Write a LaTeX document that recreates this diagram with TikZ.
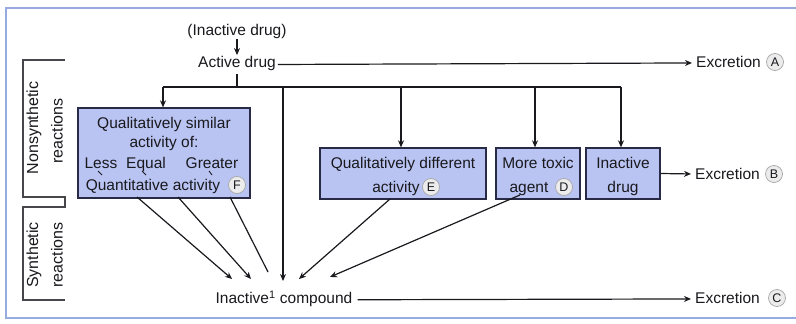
\documentclass[tikz,border=0pt]{standalone}
\usepackage{fontspec}
\setmainfont{Liberation Sans}
\usetikzlibrary{arrows.meta}
\definecolor{boxfill}{RGB}{186,196,242}
\definecolor{boxline}{RGB}{40,42,70}
\definecolor{framec}{RGB}{150,172,225}
\definecolor{inkc}{RGB}{25,25,30}
\tikzset{
  txt/.style={font=\fontsize{15.5}{18}\selectfont, inner sep=0pt, text=inkc, anchor=base},
  pbox/.style={draw=boxline, fill=boxfill, line width=1.3pt, inner sep=0pt},
  ln/.style={draw=inkc, line width=1.2pt},
  arr/.style={ln, -{Stealth[length=7pt,width=6pt]}},
  cl/.style={circle, draw=gray!70, fill=gray!15, line width=0.7pt, inner sep=0pt,
             minimum size=17pt, font=\fontsize{12.5}{13}\selectfont, text=inkc},
  brk/.style={draw=inkc!80, line width=1.2pt},
  vtxt/.style={font=\fontsize{16}{18}\selectfont, inner sep=0pt, text=inkc, rotate=90},
}
\begin{document}
\begin{tikzpicture}[x=1pt,y=-1pt]
\useasboundingbox (0,0) rectangle (796,324);
\fill[white] (0,0) rectangle (796,324);
% outer frame
\draw[framec, line width=2.5pt] (796,8) -- (6,8) -- (6,318) -- (796,318);

% top
\node[txt] (inact) at (237,35.5) {(Inactive drug)};
\node[txt] (active) at (237,67.5) {Active drug};
\draw[arr] (inact.south) -- ([yshift=1pt]active.north);

% excretions
\node[txt, anchor=base west] (exA) at (696,67.5) {Excretion};
\node[cl] (cA) at (775,62) {A};
\node[txt, anchor=base west] (exB) at (695,179.5) {Excretion};
\node[cl] (cB) at (774,174) {B};
\node[txt, anchor=base west] (exC) at (695,303.5) {Excretion};
\node[cl] (cC) at (777,298) {C};

% boxes
\node[pbox, minimum width=172pt, minimum height=90pt] (boxF) at (164,153) {};
\node[pbox, minimum width=166pt, minimum height=51pt] (boxE) at (403,173.5) {};
\node[pbox, minimum width=84pt, minimum height=51pt] (boxD) at (538,173.5) {};
\node[pbox, minimum width=74pt, minimum height=51pt] (boxI) at (623,173.5) {};

% box F texts
\node[txt] (f1) at (164,128.5) {Qualitatively similar};
\node[txt] (f2) at (164,147.5) {activity of:};
\node[txt] (fl) at (101,168.5) {Less};
\node[txt] (fe) at (146,168.5) {Equal};
\node[txt] (fg) at (212,168.5) {Greater};
\node[txt] (f4) at (153,190.5) {Quantitative activity};
\node[cl] (cF) at (237,185) {F};
\draw[ln, line width=0.9pt] (98,171) -- (102,175);
\draw[ln, line width=0.9pt] (142,171) -- (146,175);
\draw[ln, line width=0.9pt] (209,171) -- (212,175);

% box E texts
\node[txt] (e1) at (403,168.5) {Qualitatively different};
\node[txt] (e2) at (396,192.5) {activity};
\node[cl] (cE) at (431,187) {E};
% box D texts
\node[txt] (d1) at (538,168.5) {More toxic};
\node[txt] (d2) at (529,192.5) {agent};
\node[cl] (cD) at (564,187) {D};
% box I texts
\node[txt] (i1) at (623,168.5) {Inactive};
\node[txt] (i2) at (623,192.5) {drug};

% inactive compound
\node[txt] (ic) at (284,303.5) {Inactive\textsuperscript{1} compound};

% branching
\coordinate (j0) at (237,87);
\coordinate (jF) at (163,87);
\coordinate (jC) at (283,87);
\coordinate (jE) at (401,87);
\coordinate (jD) at (535,87);
\coordinate (jI) at (621,87);
\draw[ln] ([yshift=-3pt]active.south) -- (j0);
\draw[ln] (jF) -- (jI);
\draw[arr] (jF) -- (jF |- boxF.north);
\draw[arr] (jE) -- (jE |- boxE.north);
\draw[arr] (jD) -- (jD |- boxD.north);
\draw[arr] (jI) -- (jI |- boxI.north);

% excretion arrows
\draw[arr, shorten <=2pt] ([yshift=-1pt]active.east) -- ([xshift=-4pt,yshift=-1pt]exA.west);
\draw[arr] (boxI.east) -- ([xshift=-4pt]exB.west);
\draw[arr, shorten <=5pt] ([yshift=-1pt]ic.east) -- ([xshift=-4pt,yshift=-1pt]exC.west);

% arrows into inactive compound
\coordinate (s1) at (137,197);
\coordinate (s2) at (178,197);
\coordinate (s3) at (230,197);
\coordinate (s5) at (390,199);
\coordinate (s6) at (520,195);
\coordinate (t1) at (232,279);
\coordinate (t2) at (251,279);
\coordinate (t3) at (268,272);
\coordinate (t4) at (283,281);
\coordinate (t5) at (299,279);
\coordinate (t6) at (330,277);
\draw[arr] (s1) -- (t1);
\draw[arr] (s2) -- (t2);
\draw[ln] (s3) -- (t3);
\draw[arr] (jC) -- (t4);
\draw[arr] (s5) -- (t5);
\draw[arr] (s6) -- (t6);

% brackets
\draw[brk] (65,60) -- (23,60) -- (23,197) -- (65,197) -- (65,207) -- (23,207) -- (23,300) -- (65,300);
\node[vtxt] (ns1) at (34,128) {Nonsynthetic};
\node[vtxt] (ns2) at (57,131) {reactions};
\node[vtxt] (sy1) at (34,255) {Synthetic};
\node[vtxt] (sy2) at (57,255) {reactions};
\end{tikzpicture}
\end{document}
